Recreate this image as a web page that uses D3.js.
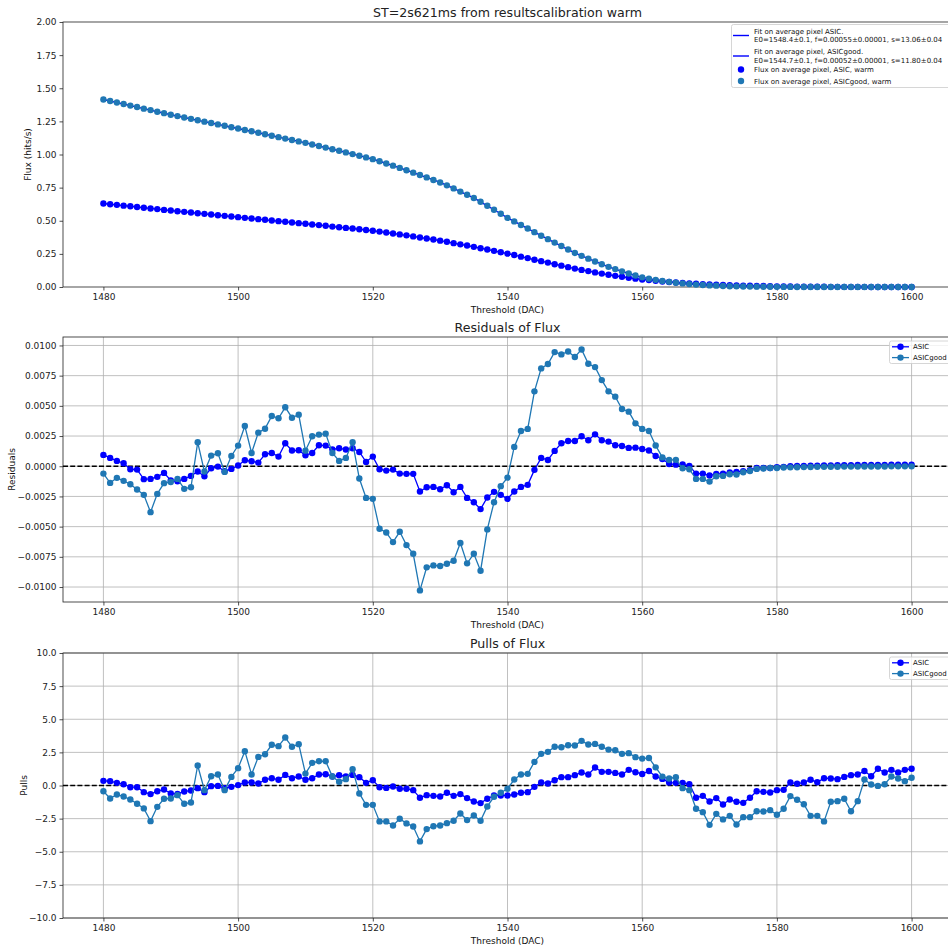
<!DOCTYPE html>
<html>
<head>
<meta charset="utf-8">
<script src="https://cdn.jsdelivr.net/npm/d3@7"></script>
<style>
  body { margin: 0; background: #fff; }
  svg { display: block; font-family: "DejaVu Sans", sans-serif; }
</style>
</head>
<body>
<div id="chart"></div>
<script>
// Umbrales (DAC), uno por punto
const umbrales = d3.range(1480, 1601);

// Flujo medio por pixel (hits/s)
const flujoASIC = [
  0.630, 0.625, 0.620, 0.614, 0.609, 0.604, 0.598, 0.593, 0.588, 0.582,
  0.577, 0.572, 0.567, 0.562, 0.557, 0.552, 0.547, 0.542, 0.537, 0.532,
  0.527, 0.522, 0.517, 0.512, 0.507, 0.502, 0.497, 0.492, 0.487, 0.482,
  0.477, 0.472, 0.467, 0.462, 0.456, 0.451, 0.446, 0.441, 0.436, 0.430,
  0.425, 0.418, 0.411, 0.404, 0.397, 0.390, 0.382, 0.374, 0.366, 0.358,
  0.350, 0.341, 0.331, 0.322, 0.313, 0.303, 0.293, 0.283, 0.273, 0.262,
  0.252, 0.241, 0.229, 0.218, 0.206, 0.195, 0.184, 0.172, 0.161, 0.150,
  0.139, 0.129, 0.120, 0.110, 0.101, 0.092, 0.084, 0.077, 0.070, 0.063,
  0.057, 0.052, 0.047, 0.042, 0.038, 0.034, 0.031, 0.027, 0.024, 0.021,
  0.019, 0.017, 0.015, 0.013, 0.011, 0.010, 0.009, 0.008, 0.007, 0.006,
  0.005, 0.0044, 0.0038, 0.0032, 0.0026, 0.0022, 0.0019, 0.0016, 0.0013, 0.0011,
  0.0009, 0.0008, 0.0007, 0.0006, 0.0005, 0.0004, 0.0004, 0.0003, 0.0003, 0.0002,
  0.0002
];
const flujoASICgood = [
  1.415, 1.404, 1.392, 1.381, 1.369, 1.358, 1.346, 1.335, 1.323, 1.312,
  1.300, 1.290, 1.279, 1.269, 1.258, 1.248, 1.238, 1.227, 1.217, 1.206,
  1.196, 1.185, 1.175, 1.164, 1.153, 1.142, 1.131, 1.120, 1.110, 1.099,
  1.088, 1.076, 1.064, 1.052, 1.040, 1.028, 1.016, 1.003, 0.991, 0.978,
  0.965, 0.949, 0.932, 0.916, 0.899, 0.881, 0.863, 0.845, 0.827, 0.808,
  0.789, 0.767, 0.744, 0.720, 0.696, 0.672, 0.643, 0.613, 0.583, 0.553,
  0.522, 0.495, 0.468, 0.441, 0.414, 0.387, 0.361, 0.335, 0.309, 0.283,
  0.257, 0.235, 0.214, 0.193, 0.172, 0.152, 0.135, 0.118, 0.102, 0.087,
  0.073, 0.063, 0.054, 0.046, 0.039, 0.032, 0.027, 0.022, 0.018, 0.015,
  0.012, 0.010, 0.008, 0.006, 0.005, 0.004, 0.003, 0.0025, 0.002, 0.0015,
  0.001, 0.0008, 0.0006, 0.0005, 0.0004, 0.0003, 0.0002, 0.0002, 0.0001, 0.0001,
  0.0001, 0.0001, 0.0001, 0.0001, 0.0, 0.0, 0.0, 0.0, 0.0, 0.0,
  0.0
];

// Residuos del ajuste
const residuosASIC = [
  0.00094, 0.00069, 0.00044, 0.00025, -0.00025, -0.00028, -0.00107, -0.00105, -0.00088, -0.00055,
  -0.00118, -0.00124, -0.00105, -0.00080, -0.00044, -0.00083, -0.00017, -0.00003, -0.00041, -0.00022,
  0.00006, 0.00050, 0.00041, 0.00030, 0.00099, 0.00110, 0.00080, 0.00190, 0.00130, 0.00132,
  0.00091, 0.00110, 0.00174, 0.00171, 0.00140, 0.00149, 0.00138, 0.00149, 0.00118, 0.00036,
  0.00080, -0.00025, -0.00036, -0.00028, -0.00061, -0.00063, -0.00063, -0.00209, -0.00174, -0.00171,
  -0.00190, -0.00157, -0.00215, -0.00171, -0.00262, -0.00298, -0.00355, -0.00259, -0.00212, -0.00237,
  -0.00270, -0.00209, -0.00171, -0.00154, -0.00030, 0.00069, 0.00052, 0.00127, 0.00190, 0.00209,
  0.00209, 0.00248, 0.00215, 0.00264, 0.00215, 0.00204, 0.00174, 0.00168, 0.00152, 0.00154,
  0.00143, 0.00130, 0.00085, 0.00060, 0.00019, 0.00013, 0.00014, 0.00003, -0.00061, -0.00061,
  -0.00077, -0.00063, -0.00061, -0.00052, -0.00047, -0.00041, -0.00033, -0.00014, -0.00014, -0.00014,
  -0.00008, -0.00005, 0.00000, 0.00002, 0.00003, 0.00004, 0.00005, 0.00006, 0.00007, 0.00008,
  0.00008, 0.00009, 0.00010, 0.00010, 0.00011, 0.00011, 0.00011, 0.00012, 0.00012, 0.00012,
  0.00012
];
const residuosASICgood = [
  -0.00061, -0.00138, -0.00096, -0.00121, -0.00149, -0.00193, -0.00237, -0.00380, -0.00229, -0.00140,
  -0.00130, -0.00105, -0.00187, -0.00174, 0.00198, -0.00044, 0.00088, 0.00107, -0.00047, 0.00085,
  0.00171, 0.00333, 0.00110, 0.00278, 0.00311, 0.00416, 0.00397, 0.00488, 0.00402, 0.00427,
  0.00129, 0.00248, 0.00262, 0.00270, 0.00110, 0.00044, 0.00069, 0.00198, -0.00102, -0.00262,
  -0.00270, -0.00518, -0.00548, -0.00628, -0.00543, -0.00653, -0.00725, -0.01028, -0.00837, -0.00821,
  -0.00826, -0.00807, -0.00782, -0.00636, -0.00804, -0.00725, -0.00865, -0.00523, -0.00298, -0.00165,
  -0.00094, 0.00160, 0.00292, 0.00309, 0.00620, 0.00810, 0.00846, 0.00945, 0.00926, 0.00950,
  0.00904, 0.00967, 0.00848, 0.00821, 0.00713, 0.00620, 0.00576, 0.00474, 0.00452, 0.00355,
  0.00309, 0.00292, 0.00172, 0.00073, 0.00052, 0.00053, -0.00017, -0.00025, -0.00105, -0.00105,
  -0.00127, -0.00083, -0.00080, -0.00066, -0.00069, -0.00050, -0.00039, -0.00022, -0.00019, -0.00014,
  -0.00014, -0.00011, -0.00009, -0.00008, -0.00007, -0.00006, -0.00005, -0.00005, -0.00004, -0.00004,
  -0.00003, -0.00003, -0.00003, -0.00002, -0.00002, -0.00002, -0.00002, -0.00001, -0.00001, -0.00001,
  -0.00001
];

// Pulls del ajuste
const pullsASIC = [
  0.35, 0.33, 0.20, 0.10, -0.13, -0.13, -0.50, -0.65, -0.43, -0.30,
  -0.60, -0.63, -0.45, -0.38, -0.20, -0.50, -0.05, -0.03, -0.20, -0.10,
  0.03, 0.23, 0.23, 0.15, 0.43, 0.55, 0.43, 0.80, 0.55, 0.68,
  0.43, 0.55, 0.83, 0.85, 0.68, 0.78, 0.68, 0.80, 0.63, 0.20,
  0.40, -0.13, -0.18, -0.08, -0.25, -0.25, -0.35, -0.93, -0.73, -0.78,
  -0.83, -0.55, -0.78, -0.65, -0.95, -1.21, -1.33, -1.00, -0.75, -0.75,
  -0.75, -0.68, -0.55, -0.50, -0.10, 0.23, 0.15, 0.40, 0.63, 0.63,
  0.78, 0.98, 0.83, 1.36, 1.03, 1.03, 0.95, 0.83, 1.18, 1.00,
  0.87, 1.10, 0.68, 0.50, 0.22, 0.20, 0.20, 0.10, -0.93, -0.78,
  -1.21, -0.95, -1.43, -1.06, -1.23, -1.31, -0.93, -0.43, -0.48, -0.53,
  -0.35, -0.33, 0.23, 0.13, 0.23, 0.43, 0.25, 0.55, 0.53, 0.48,
  0.65, 0.78, 0.83, 1.10, 0.70, 1.26, 0.98, 1.18, 0.98, 1.18,
  1.26
];
const pullsASICgood = [
  -0.43, -0.98, -0.68, -0.83, -1.06, -1.38, -1.73, -2.69, -1.61, -1.00,
  -0.98, -0.73, -1.38, -1.28, 1.51, -0.35, 0.70, 0.83, -0.35, 0.65,
  1.31, 2.59, 0.83, 2.16, 2.36, 3.07, 2.97, 3.62, 2.92, 3.12,
  0.90, 1.71, 1.83, 1.83, 0.68, 0.28, 0.48, 1.23, -0.60, -1.46,
  -1.46, -2.71, -2.71, -3.02, -2.51, -2.86, -3.09, -4.22, -3.29, -3.07,
  -3.02, -2.84, -2.66, -2.11, -2.61, -2.26, -2.66, -1.58, -0.85, -0.55,
  -0.25, 0.45, 0.83, 0.88, 1.78, 2.39, 2.54, 2.92, 2.89, 3.04,
  3.02, 3.37, 3.09, 3.14, 2.92, 2.71, 2.66, 2.39, 2.44, 2.14,
  2.03, 2.08, 1.37, 0.67, 0.53, 0.62, -0.20, -0.35, -1.76, -2.01,
  -2.97, -2.14, -2.56, -2.29, -2.94, -2.39, -2.39, -1.94, -1.96, -1.86,
  -2.21, -1.76, -0.80, -1.08, -1.41, -2.29, -2.29, -2.71, -1.23, -1.18,
  -1.00, -1.94, -1.18, 0.45, 0.08, -0.03, 0.10, 0.68, 0.53, 0.33,
  0.58
];

// Etiquetas de los ejes
const ticksX = [1480, 1500, 1520, 1540, 1560, 1580, 1600];
const ticksFlujo = [0, 0.25, 0.5, 0.75, 1.0, 1.25, 1.5, 1.75, 2.0];
const ticksResiduos = [-0.01, -0.0075, -0.005, -0.0025, 0, 0.0025, 0.005, 0.0075, 0.01];
const ticksPulls = [-10, -7.5, -5, -2.5, 0, 2.5, 5, 7.5, 10];

const textosFit = [
  ["Fit on average pixel ASIC.", "E0=1548.4\u00b10.1, f=0.00055\u00b10.00001, s=13.06\u00b10.04"],
  ["Fit on average pixel, ASICgood.", "E0=1544.7\u00b10.1, f=0.00052\u00b10.00001, s=11.80\u00b10.04"]
];
const textosFlujo = ["Flux on average pixel, ASIC, warm", "Flux on average pixel, ASICgood, warm"];
const nombresSeries = ["ASIC", "ASICgood"];

// Dimensiones
const width = 948;
const height = 949;
const colorASIC = "#0000ff";
const colorGood = "#1f77b4";

const svg = d3.select("#chart")
  .append("svg")
  .attr("width", width)
  .attr("height", height);

const x = d3.scaleLinear()
  .domain([1474, 1606])
  .range([63, 952]);

const paneles = [
  { top: 22, bottom: 287, domain: [0, 2], ticks: ticksFlujo, fmt: d3.format(".2f"),
    titulo: "ST=2s621ms from resultscalibration warm", ylabel: "Flux (hits/s)", ylabelX: 31, tituloSize: 12.6 },
  { top: 337, bottom: 602, domain: [-0.01124, 0.0107], ticks: ticksResiduos, fmt: d3.format(".4f"),
    titulo: "Residuals of Flux", ylabel: "Residuals", ylabelX: 15, tituloSize: 12.6 },
  { top: 653, bottom: 918, domain: [-10, 10], ticks: ticksPulls, fmt: d3.format(".1f"),
    titulo: "Pulls of Flux", ylabel: "Pulls", ylabelX: 27, tituloSize: 12.6 }
];

// Dibuja ejes, rejilla y títulos de un panel
function dibujarPanel(p, conRejilla) {
  const y = d3.scaleLinear().domain(p.domain).range([p.bottom, p.top]);
  const g = svg.append("g");

  if (conRejilla) {
    g.append("g").selectAll("line")
      .data(ticksX).enter().append("line")
      .attr("x1", d => x(d)).attr("x2", d => x(d))
      .attr("y1", p.top).attr("y2", p.bottom)
      .attr("stroke", "#b0b0b0").attr("stroke-width", 0.8);
    g.append("g").selectAll("line")
      .data(p.ticks).enter().append("line")
      .attr("x1", 63).attr("x2", 952)
      .attr("y1", d => y(d)).attr("y2", d => y(d))
      .attr("stroke", "#b0b0b0").attr("stroke-width", 0.8);
  }

  const ejeX = g.append("g")
    .attr("transform", `translate(0,${p.bottom})`)
    .call(d3.axisBottom(x).tickValues(ticksX).tickFormat(d3.format("d")).tickSize(3.5).tickPadding(3));
  const ejeY = g.append("g")
    .attr("transform", "translate(63,0)")
    .call(d3.axisLeft(y).tickValues(p.ticks).tickFormat(p.fmt).tickSize(3.5).tickPadding(3));
  [ejeX, ejeY].forEach(e => {
    e.select(".domain").remove();
    e.selectAll("text").attr("font-size", 9).attr("fill", "#222").attr("font-family", "DejaVu Sans");
    e.selectAll("line").attr("stroke", "#222").attr("stroke-width", 0.8);
  });

  // marco
  g.append("rect")
    .attr("x", 63).attr("y", p.top)
    .attr("width", 952 - 63).attr("height", p.bottom - p.top)
    .attr("fill", "none").attr("stroke", "#222").attr("stroke-width", 0.8);

  g.append("text")
    .attr("x", (63 + 952) / 2).attr("y", p.top - 5.5)
    .attr("text-anchor", "middle").attr("font-size", p.tituloSize).attr("fill", "#222")
    .text(p.titulo);
  g.append("text")
    .attr("x", (63 + 952) / 2).attr("y", p.bottom + 26)
    .attr("text-anchor", "middle").attr("font-size", 9).attr("fill", "#111")
    .text("Threshold (DAC)");
  g.append("text")
    .attr("transform", `translate(${p.ylabelX},${(p.top + p.bottom) / 2}) rotate(-90)`)
    .attr("text-anchor", "middle").attr("font-size", 9).attr("fill", "#111")
    .text(p.ylabel);

  return y;
}

// ---------- Panel 1: flujo ----------
const y1 = dibujarPanel(paneles[0], false);
const linea1 = d3.line().x((d, i) => x(umbrales[i])).y(d => y1(d));

[flujoASIC, flujoASICgood].forEach(serie => {
  svg.append("path")
    .datum(serie)
    .attr("d", linea1)
    .attr("fill", "none").attr("stroke", colorASIC).attr("stroke-width", 1.4);
});
[[flujoASIC, colorASIC], [flujoASICgood, colorGood]].forEach(([serie, color]) => {
  svg.append("g").selectAll("circle")
    .data(serie).enter().append("circle")
    .attr("cx", (d, i) => x(umbrales[i]))
    .attr("cy", d => y1(d))
    .attr("r", 3.2)
    .attr("fill", color);
});

// Leyenda panel 1
const ley1 = svg.append("g").attr("font-size", 7).attr("fill", "#111");
ley1.append("rect")
  .attr("x", 731.5).attr("y", 24.5).attr("width", 230).attr("height", 63)
  .attr("rx", 2).attr("fill", "white").attr("fill-opacity", 0.8)
  .attr("stroke", "#cccccc").attr("stroke-width", 0.8);
textosFit.forEach((t, i) => {
  const yc = 35.5 + i * 20.5;
  ley1.append("line")
    .attr("x1", 733).attr("x2", 749).attr("y1", yc).attr("y2", yc)
    .attr("stroke", colorASIC).attr("stroke-width", 1.4);
  ley1.append("text").attr("x", 754).attr("y", yc - 2).text(t[0]);
  ley1.append("text").attr("x", 754).attr("y", yc + 6.5).text(t[1]);
});
textosFlujo.forEach((t, i) => {
  const yc = 69.5 + i * 11.5;
  ley1.append("circle").attr("cx", 741).attr("cy", yc).attr("r", 3.2)
    .attr("fill", i === 0 ? colorASIC : colorGood);
  ley1.append("text").attr("x", 754).attr("y", yc + 2.5).text(t);
});

// ---------- Paneles 2 y 3: residuos y pulls ----------
function dibujarSeries(p, series, leyTop) {
  const y = dibujarPanel(p, true);
  svg.append("line")
    .attr("x1", 63).attr("x2", 952).attr("y1", y(0)).attr("y2", y(0))
    .attr("stroke", "black").attr("stroke-width", 1.3).attr("stroke-dasharray", "5,2.2");
  const linea = d3.line().x((d, i) => x(umbrales[i])).y(d => y(d));
  series.forEach(([serie, color]) => {
    svg.append("path")
      .datum(serie)
      .attr("d", linea)
      .attr("fill", "none").attr("stroke", color).attr("stroke-width", 1.3);
    svg.append("g").selectAll("circle")
      .data(serie).enter().append("circle")
      .attr("cx", (d, i) => x(umbrales[i]))
      .attr("cy", d => y(d))
      .attr("r", 3.2)
      .attr("fill", color);
  });

  // leyenda
  const ley = svg.append("g").attr("font-size", 7).attr("fill", "#111");
  ley.append("rect")
    .attr("x", 889.5).attr("y", leyTop).attr("width", 70).attr("height", 22.5)
    .attr("rx", 2).attr("fill", "white").attr("fill-opacity", 0.8)
    .attr("stroke", "#cccccc").attr("stroke-width", 0.8);
  series.forEach(([serie, color], i) => {
    const yc = leyTop + 5.8 + i * 10.8;
    ley.append("line")
      .attr("x1", 892).attr("x2", 909).attr("y1", yc).attr("y2", yc)
      .attr("stroke", color).attr("stroke-width", 1.3);
    ley.append("circle").attr("cx", 900.5).attr("cy", yc).attr("r", 3.2).attr("fill", color);
    ley.append("text").attr("x", 913).attr("y", yc + 2.5).text(nombresSeries[i]);
  });
}

dibujarSeries(paneles[1], [[residuosASIC, colorASIC], [residuosASICgood, colorGood]], 341);
dibujarSeries(paneles[2], [[pullsASIC, colorASIC], [pullsASICgood, colorGood]], 657);
</script>
</body>
</html>
